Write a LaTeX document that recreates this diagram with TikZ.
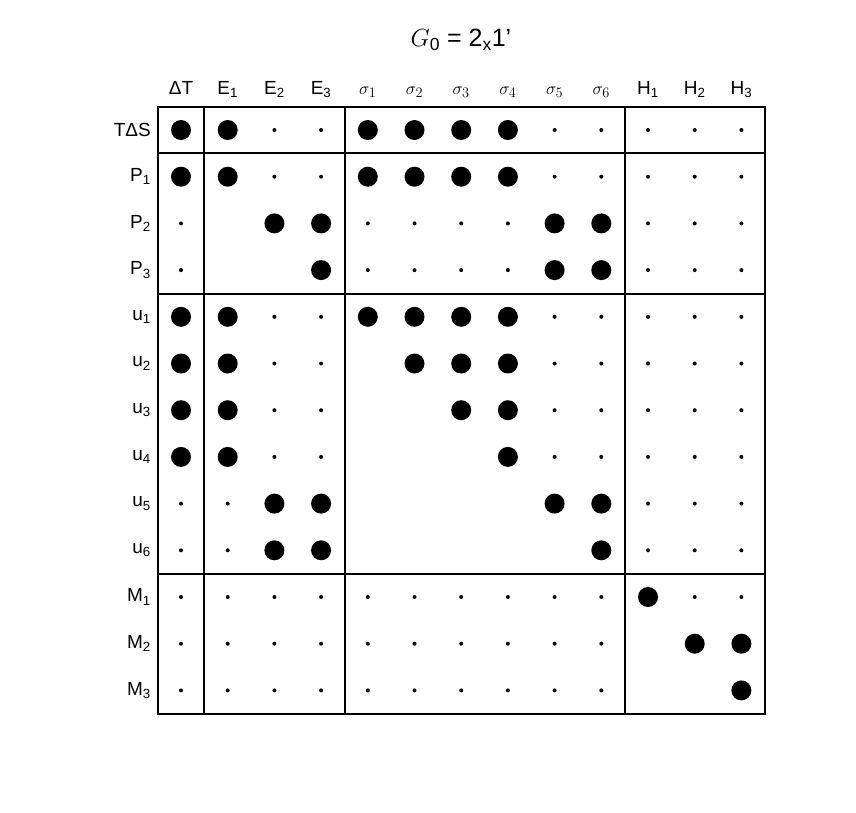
\documentclass[tikz,border=0pt]{standalone}
\usepackage{fontspec}
\setmainfont{Liberation Sans}
\usepackage{tikz}
\begin{document}
\begin{tikzpicture}[x=1pt,y=-1pt]
\tikzstyle{lbl} = [inner sep=0pt, font=\fontsize{19}{22}\selectfont]
\tikzstyle{big} = [fill, circle, minimum size=20pt, inner sep=0pt]
\tikzstyle{small} = [fill, circle, minimum size=4pt, inner sep=0pt]
\tikzstyle{frame} = [line width=2.2pt]
\useasboundingbox (0,0) rectangle (856,812);
\node[inner sep=0pt, font=\fontsize{25}{28}\selectfont] (title) at (461,40) {$G$\textsubscript{0} = 2\textsubscript{x}1'};
% column heads
\foreach \t [count=\i] in {ΔT,E\textsubscript{1},E\textsubscript{2},E\textsubscript{3},$\sigma_1$,$\sigma_2$,$\sigma_3$,$\sigma_4$,$\sigma_5$,$\sigma_6$,H\textsubscript{1},H\textsubscript{2},H\textsubscript{3}}
  \node[lbl, anchor=base] (c\i) at (181+46.7*\i-46.7,94) {\t};
% rows: 2 = large, 1 = small, 0 = empty
\foreach \t/\row [count=\r] in {
  TΔS/{2,2,1,1,2,2,2,2,1,1,1,1,1},
  P\textsubscript{1}/{2,2,1,1,2,2,2,2,1,1,1,1,1},
  P\textsubscript{2}/{1,0,2,2,1,1,1,1,2,2,1,1,1},
  P\textsubscript{3}/{1,0,0,2,1,1,1,1,2,2,1,1,1},
  u\textsubscript{1}/{2,2,1,1,2,2,2,2,1,1,1,1,1},
  u\textsubscript{2}/{2,2,1,1,0,2,2,2,1,1,1,1,1},
  u\textsubscript{3}/{2,2,1,1,0,0,2,2,1,1,1,1,1},
  u\textsubscript{4}/{2,2,1,1,0,0,0,2,1,1,1,1,1},
  u\textsubscript{5}/{1,1,2,2,0,0,0,0,2,2,1,1,1},
  u\textsubscript{6}/{1,1,2,2,0,0,0,0,0,2,1,1,1},
  M\textsubscript{1}/{1,1,1,1,1,1,1,1,1,1,2,1,1},
  M\textsubscript{2}/{1,1,1,1,1,1,1,1,1,1,0,2,2},
  M\textsubscript{3}/{1,1,1,1,1,1,1,1,1,1,0,0,2}} {
  \node[lbl, anchor=east] (r\r) at (151,130+46.7*\r-46.7) {\t};
  \foreach \v [count=\i] in \row {
    \ifnum\v=2 \node[big] (d\r-\i) at (181+46.7*\i-46.7,130+46.7*\r-46.7) {};\fi
    \ifnum\v=1 \node[small] (d\r-\i) at (181+46.7*\i-46.7,130+46.7*\r-46.7) {};\fi
  }
}
% block frame
\draw[frame] (158,107) rectangle (765,714);
\foreach \x in {204,345,625} \draw[frame] (\x,107) -- (\x,714);
\foreach \y in {153,294,574} \draw[frame] (158,\y) -- (765,\y);
\end{tikzpicture}
\end{document}
